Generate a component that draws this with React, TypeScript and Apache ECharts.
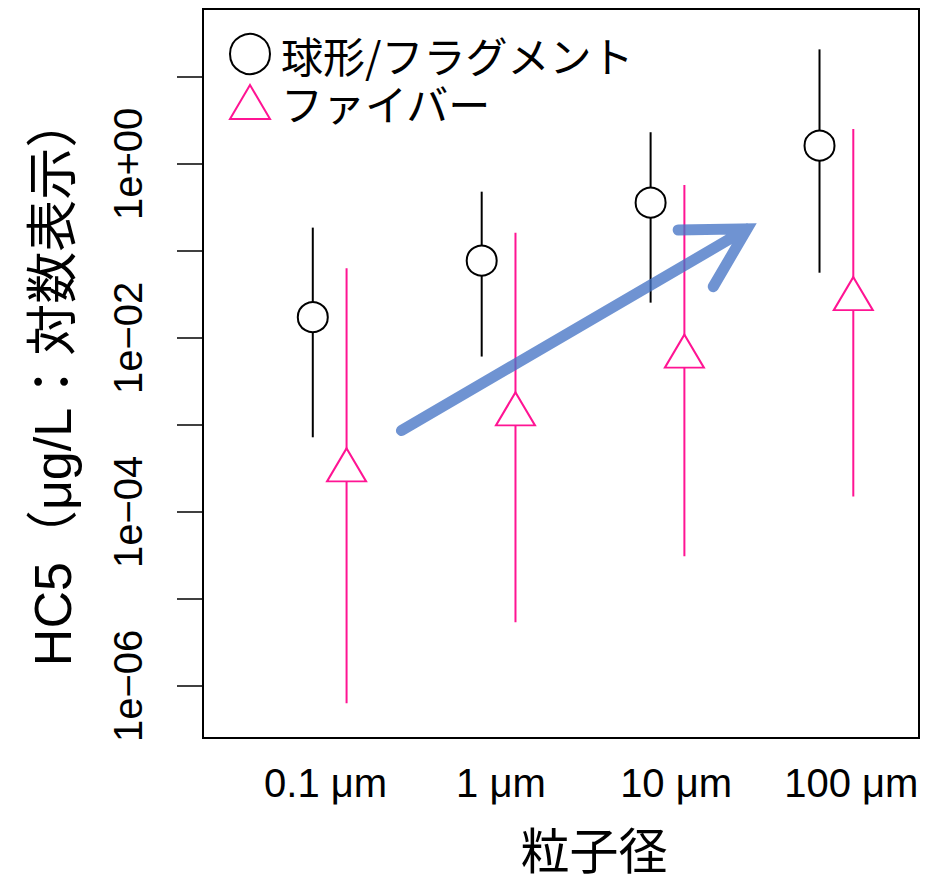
import React, { useEffect, useRef } from "react";
import * as echarts from "echarts";

// ---- data ----
const sizes = [0.1, 1, 10, 100]; // particle size, µm
const sizeLabels = ["0.1 μm", "1 μm", "10 μm", "100 μm"];
const sphereName = "球形/フラグメント";
const fiberName = "ファイバー";
// HC5 (µg/L)
const sphereHC5 = [0.0173, 0.0771, 0.358, 1.62];
const sphereLow = [7.2e-4, 6.1e-3, 0.0254, 0.0561];
const sphereHigh = [0.185, 0.479, 2.31, 20.7];
const fiberHC5 = [3.0e-4, 1.32e-3, 6.1e-3, 0.0279];
const fiberLow = [6.3e-7, 5.4e-6, 3.1e-5, 1.5e-4];
const fiberHigh = [0.0631, 0.162, 0.571, 2.52];
// y ticks (powers of ten)
const yTickExp = [-6, -5, -4, -3, -2, -1, 0, 1];
const yLabelExp = [-6, -4, -2, 0];
// trend arrow: [log10(size), HC5]
const arrowStart = [-0.575, 8.6e-4];
const arrowTip = [1.471, 0.179];
const arrowBarbs = [
  [1.063, 0.174],
  [1.271, 0.0388],
];

// ---- layout / style ----
const L = Math.log10;
const dodge = 0.1;
const xLabelAt = [-1.024, 0.014, 1.051, 2.088];
const PINK = "#ff1493";
const LATIN = '"Liberation Sans", Arial, sans-serif';
const JP = '"Noto Sans CJK JP", sans-serif';

function fmtExp(v: number) {
  const e = Math.round(v);
  const s = e >= 0 ? "+" : "\u2212";
  const a = Math.abs(e);
  return "1e" + s + (a < 10 ? "0" : "") + a;
}

function whisker(color: string) {
  return (params: any, api: any) => {
    const a = api.coord([api.value(0), api.value(1)]);
    const b = api.coord([api.value(0), api.value(2)]);
    return {
      type: "line",
      shape: { x1: a[0], y1: a[1], x2: b[0], y2: b[1] },
      style: { stroke: color, lineWidth: 2 },
    };
  };
}

export default function App() {
  const ref = useRef<HTMLDivElement>(null);
  useEffect(() => {
    if (!ref.current) return;
    const chart = echarts.init(ref.current, undefined, { renderer: "svg" });
    const option: any = {
      animation: false,
      backgroundColor: "#fff",
      grid: {
        left: 203,
        right: 22,
        top: 9,
        bottom: 141,
        show: true,
        borderColor: "#000",
        borderWidth: 2,
        backgroundColor: "transparent",
        containLabel: false,
        outerBoundsMode: "none",
      },
      xAxis: {
        type: "value",
        min: -1.75,
        max: 2.489,
        position: "bottom",
        splitLine: { show: false },
        axisLine: { show: false, onZero: false },
        axisTick: { show: false },
        axisLabel: {
          customValues: xLabelAt,
          formatter: (v: number) => {
            let best = 0;
            xLabelAt.forEach((p, i) => {
              if (Math.abs(p - v) < Math.abs(xLabelAt[best] - v)) best = i;
            });
            return sizeLabels[best];
          },
          fontSize: 40,
          fontFamily: LATIN,
          color: "#000",
          margin: 25,
        },
      },
      yAxis: {
        type: "value",
        min: -6.599,
        max: 1.78,
        position: "left",
        splitLine: { show: false },
        axisLine: { show: false, onZero: false },
        axisTick: {
          show: true,
          customValues: yTickExp,
          length: 26,
          lineStyle: { color: "#000", width: 1.5 },
        },
        axisLabel: {
          customValues: yLabelExp,
          rotate: 90,
          margin: 55,
          fontSize: 40,
          fontFamily: LATIN,
          color: "#000",
          formatter: (v: number) => fmtExp(v),
        },
      },
      legend: {
        orient: "vertical",
        left: 229,
        top: 33,
        padding: 0,
        itemWidth: 40,
        itemHeight: 40,
        itemGap: 6,
        selectedMode: false,
        textStyle: {
          fontSize: 42,
          fontFamily: JP,
          color: "#000",
          lineHeight: 40,
          padding: [0, 0, 0, 6],
        },
        data: [
          { name: sphereName, icon: "circle" },
          { name: fiberName, icon: "path://M0,0M20,3L40,37L0,37ZM40,40" },
        ],
      },
      graphic: [
        {
          type: "text",
          x: 53,
          y: 381,
          rotation: Math.PI / 2,
          style: {
            text: "HC5（μg/L：対数表示）",
            fontSize: 52,
            fontFamily: '"Liberation Sans", "Noto Sans CJK JP", sans-serif',
            fill: "#000",
            align: "center",
            verticalAlign: "middle",
          },
        },
        {
          type: "text",
          x: 594,
          y: 847,
          style: {
            text: "粒子径",
            fontSize: 49,
            lineHeight: 50,
            fontFamily: JP,
            fill: "#000",
            align: "center",
            verticalAlign: "middle",
          },
        },
      ],
      series: [
        {
          type: "custom",
          silent: true,
          z: 2,
          renderItem: whisker("#000"),
          encode: { x: 0, y: [1, 2] },
          data: sizes.map((s, i) => [L(s) - dodge, L(sphereLow[i]), L(sphereHigh[i])]),
        },
        {
          type: "custom",
          silent: true,
          z: 2,
          renderItem: whisker(PINK),
          encode: { x: 0, y: [1, 2] },
          data: sizes.map((s, i) => [L(s) + dodge, L(fiberLow[i]), L(fiberHigh[i])]),
        },
        {
          name: sphereName,
          type: "scatter",
          z: 3,
          symbol: "circle",
          symbolSize: 30,
          itemStyle: { color: "#fff", borderColor: "#000", borderWidth: 2, opacity: 1 },
          data: sizes.map((s, i) => [L(s) - dodge, L(sphereHC5[i])]),
        },
        {
          name: fiberName,
          type: "scatter",
          z: 3,
          symbol: "triangle",
          symbolSize: [39, 33],
          symbolOffset: [0, -5.5],
          itemStyle: { color: "#fff", borderColor: PINK, borderWidth: 2, opacity: 1 },
          data: sizes.map((s, i) => [L(s) + dodge, L(fiberHC5[i])]),
        },
        {
          type: "custom",
          silent: true,
          z: 10,
          data: [[0, 0]],
          renderItem: (params: any, api: any) => {
            const c = (p: number[]) => api.coord([p[0], L(p[1])]);
            const s = c(arrowStart);
            const t = c(arrowTip);
            const b1 = c(arrowBarbs[0]);
            const b2 = c(arrowBarbs[1]);
            const d =
              `M${s[0]},${s[1]}L${t[0]},${t[1]}` +
              `M${b1[0]},${b1[1]}L${t[0]},${t[1]}L${b2[0]},${b2[1]}`;
            return {
              type: "path",
              shape: { pathData: d },
              style: {
                fill: "none",
                stroke: "rgba(68,114,196,0.77)",
                lineWidth: 11,
                lineCap: "round",
                lineJoin: "miter",
              },
            };
          },
        },
      ],
    };
    chart.setOption(option);
    return () => chart.dispose();
  }, []);
  return (
    <div
      ref={ref}
      style={{ width: 941, height: 879, position: "absolute", left: 0, top: 0 }}
    />
  );
}
